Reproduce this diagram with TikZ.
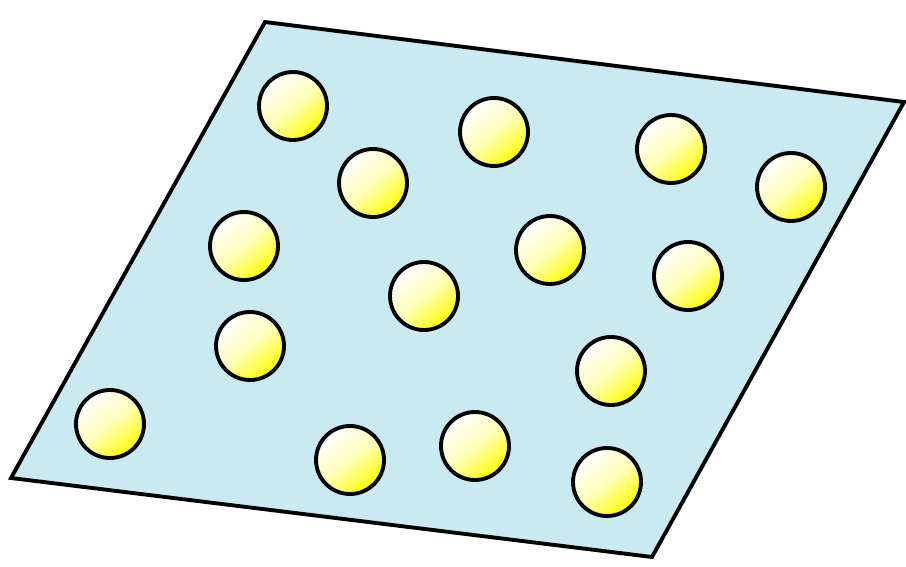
\documentclass[tikz,border=0pt]{standalone}
\usepackage{tikz}
\usetikzlibrary{positioning, shadings}
\usepackage{xcolor}
\definecolor{ink}     {HTML}{000000}
\definecolor{plate}   {HTML}{CAEAF2}
\definecolor{ballhi}  {HTML}{FFFFFF}
\definecolor{balllo}  {HTML}{FFFF00}
\tikzset{
  slab/.style  = {draw=ink, line width=2.2pt, line join=miter, fill=plate},
  ball/.style  = {circle, draw=ink, line width=2.2pt, minimum size=1.36cm,
                  inner sep=0pt, shading=axis, top color=ballhi,
                  bottom color=balllo, middle color=balllo!28,
                  shading angle=40},
}

\begin{document}
\begin{tikzpicture}[x=0.02cm, y=-0.02cm]
  \useasboundingbox (0,0) rectangle (906,567);

  % the plate
  \coordinate (nw) at (265,22);
  \coordinate (ne) at (904,102);
  \coordinate (se) at (652,557);
  \coordinate (sw) at (11,478);
  \draw[slab] (nw) -- (ne) -- (se) -- (sw) -- cycle;

  % the balls
  \foreach \bx/\by [count=\i] in {293/106, 494/132, 671/149, 791/187,
      373/183, 244/246, 550/250, 688/276, 424/296, 250/346,
      611/371, 110/424, 350/460, 475/446, 607/482}
    \node[ball] (ball\i) at (\bx,\by) {};

\end{tikzpicture}
\end{document}
